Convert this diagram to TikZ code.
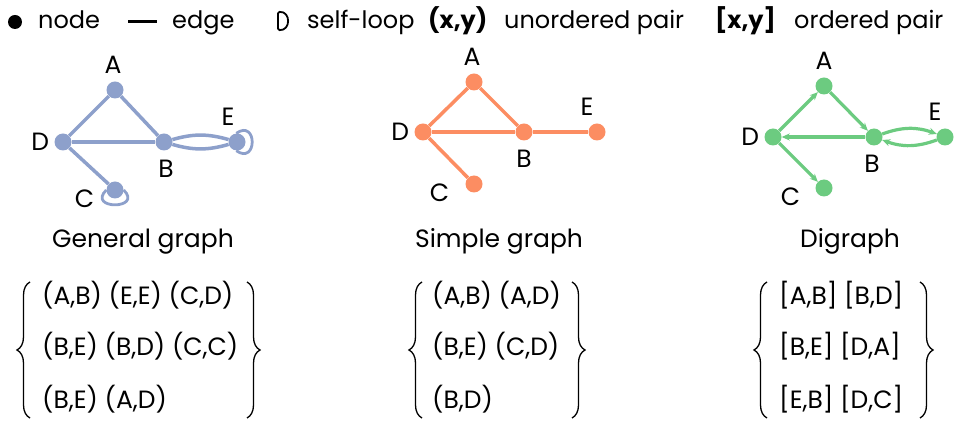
\documentclass[tikz,border=0pt]{standalone}
\usepackage{fontspec}
\setmainfont{Poppins}
\usetikzlibrary{positioning,arrows.meta,decorations.pathreplacing}
\definecolor{gblue}{HTML}{8DA0CB}
\definecolor{sorange}{HTML}{FC8D62}
\definecolor{dgreen}{HTML}{6CCB80}

\begin{document}
\begin{tikzpicture}[
    x=1pt, y=1pt,
    font=\fontsize{25}{30}\selectfont,
    gnode/.style={circle, fill=gblue, minimum size=17pt, inner sep=0pt},
    snode/.style={circle, fill=sorange, minimum size=17pt, inner sep=0pt},
    dnode/.style={circle, fill=dgreen, minimum size=17pt, inner sep=0pt},
    lbl/.style={inner sep=0pt, text=black},
    gedge/.style={draw=gblue, line width=3.5pt},
    gloop/.style={draw=gblue, line width=2.8pt},
    sedge/.style={draw=sorange, line width=3.5pt},
    dedge/.style={draw=dgreen, line width=3.2pt, -{Stealth[length=8pt, width=7pt]}},
    setbrace/.style={draw, line width=1.3pt, decorate, decoration={brace, amplitude=13pt}},
    pairrow/.style={anchor=base west, inner sep=0pt},
    legtext/.style={anchor=base west, inner sep=0pt, font=\fontsize{24}{28}\selectfont},
    caption/.style={anchor=base, inner sep=0pt}
  ]
  \useasboundingbox (0,0) rectangle (955,420);

  % legend
  \fill (15,398) circle (7pt);
  \node[legtext] (lnode) at (38,391) {node};
  \draw[line width=3pt] (128,398) coordinate (lline) -- (157,398) coordinate (llineend);
  \draw[line width=1.8pt, rounded corners=1.5pt] (278,390) -- (278,408)
    .. controls (291,409) and (291,389) .. cycle;
  \node[legtext] (ledge) at (172,391) {edge};
  \node[legtext] (lloop) at (307,391) {self-loop};
  \node[legtext] (lupair) at (428,391) {\bfseries (x,y)};
  \node[legtext] (lutext) at (504,391) {unordered pair};
  \node[legtext] (lopair) at (715,391) {\bfseries [x,y]};
  \node[legtext] (lotext) at (794,391) {ordered pair};

  % general graph
  \node[gnode] (gA) at (115,330) {};
  \node[gnode] (gD) at (63,278) {};
  \node[gnode] (gB) at (164,278) {};
  \node[gnode] (gE) at (237,278) {};
  \node[gnode] (gC) at (115,230) {};
  \node[lbl, above=8pt of gA, xshift=-2pt] (gAl) {A};
  \node[lbl, left=5pt of gD] (gDl) {D};
  \node[lbl, below=9pt of gB, xshift=2pt] (gBl) {B};
  \node[lbl, above=8pt of gE, xshift=-9pt] (gEl) {E};
  \node[lbl, left=12pt of gC, yshift=-9pt] (gCl) {C};
  \path[gedge] (gD) -- (gA);
  \path[gedge] (gA) -- (gB);
  \path[gedge] (gD) -- (gB);
  \path[gedge] (gD) -- (gC);
  \path[gedge] (gB) to[bend left=16] (gE);
  \path[gedge] (gB) to[bend right=16] (gE);
  \path[gloop] (gE.95) .. controls +(35:26pt) and +(-35:26pt) .. (gE.-95);
  \path[gloop] (gC.180) .. controls +(-135:28pt) and +(-45:28pt) .. (gC.0);
  \node[caption] (gcap) at (143,172) {General graph};

  % simple graph
  \node[snode] (sA) at (474,338) {};
  \node[snode] (sD) at (423,288) {};
  \node[snode] (sB) at (524,288) {};
  \node[snode] (sE) at (597,288) {};
  \node[snode] (sC) at (474,236) {};
  \node[lbl, above=8pt of sA, xshift=-2pt] (sAl) {A};
  \node[lbl, left=5pt of sD] (sDl) {D};
  \node[lbl, below=9pt of sB] (sBl) {B};
  \node[lbl, above=8pt of sE, xshift=-10pt] (sEl) {E};
  \node[lbl, left=16pt of sC, yshift=-9pt] (sCl) {C};
  \path[sedge] (sD) -- (sA);
  \path[sedge] (sA) -- (sB);
  \path[sedge] (sD) -- (sB);
  \path[sedge] (sB) -- (sE);
  \path[sedge] (sD) -- (sC);
  \node[caption] (scap) at (499,172) {Simple graph};

  % digraph
  \node[dnode] (dA) at (824,334) {};
  \node[dnode] (dD) at (773,283) {};
  \node[dnode] (dB) at (874,283) {};
  \node[dnode] (dE) at (945,283) {};
  \node[dnode] (dC) at (824,232) {};
  \node[lbl, above=8pt of dA] (dAl) {A};
  \node[lbl, left=5pt of dD] (dDl) {D};
  \node[lbl, below=9pt of dB, xshift=-2pt] (dBl) {B};
  \node[lbl, above=8pt of dE, xshift=-10pt] (dEl) {E};
  \node[lbl, left=15pt of dC, yshift=-9pt] (dCl) {C};
  \path[dedge] (dD) -- (dA);
  \path[dedge] (dA) -- (dB);
  \path[dedge] (dB) -- (dD);
  \path[dedge] (dD) -- (dC);
  \path[dedge] (dB) to[bend left=20] (dE);
  \path[dedge] (dE) to[bend left=20] (dB);
  \node[caption] (dcap) at (850,172) {Digraph};

  % edge sets
  \draw[setbrace] (30,2) -- (30,138);
  \node[pairrow] (gset1) at (42,115) {(A,B) (E,E) (C,D)};
  \node[pairrow] (gset2) at (42,64) {(B,E) (B,D) (C,C)};
  \node[pairrow] (gset3) at (42,12) {(B,E) (A,D)};
  \draw[setbrace] (247,138) -- (247,2);

  \draw[setbrace] (422,2) -- (422,138);
  \node[pairrow] (sset1) at (432,115) {(A,B) (A,D)};
  \node[pairrow] (sset2) at (432,64) {(B,E) (C,D)};
  \node[pairrow] (sset3) at (432,12) {(B,D)};
  \draw[setbrace] (572,138) -- (572,2);

  \draw[setbrace] (767,2) -- (767,138);
  \node[pairrow] (dset1) at (779,115) {[A,B] [B,D]};
  \node[pairrow] (dset2) at (779,64) {[B,E] [D,A]};
  \node[pairrow] (dset3) at (779,12) {[E,B] [D,C]};
  \draw[setbrace] (920,138) -- (920,2);
\end{tikzpicture}
\end{document}
